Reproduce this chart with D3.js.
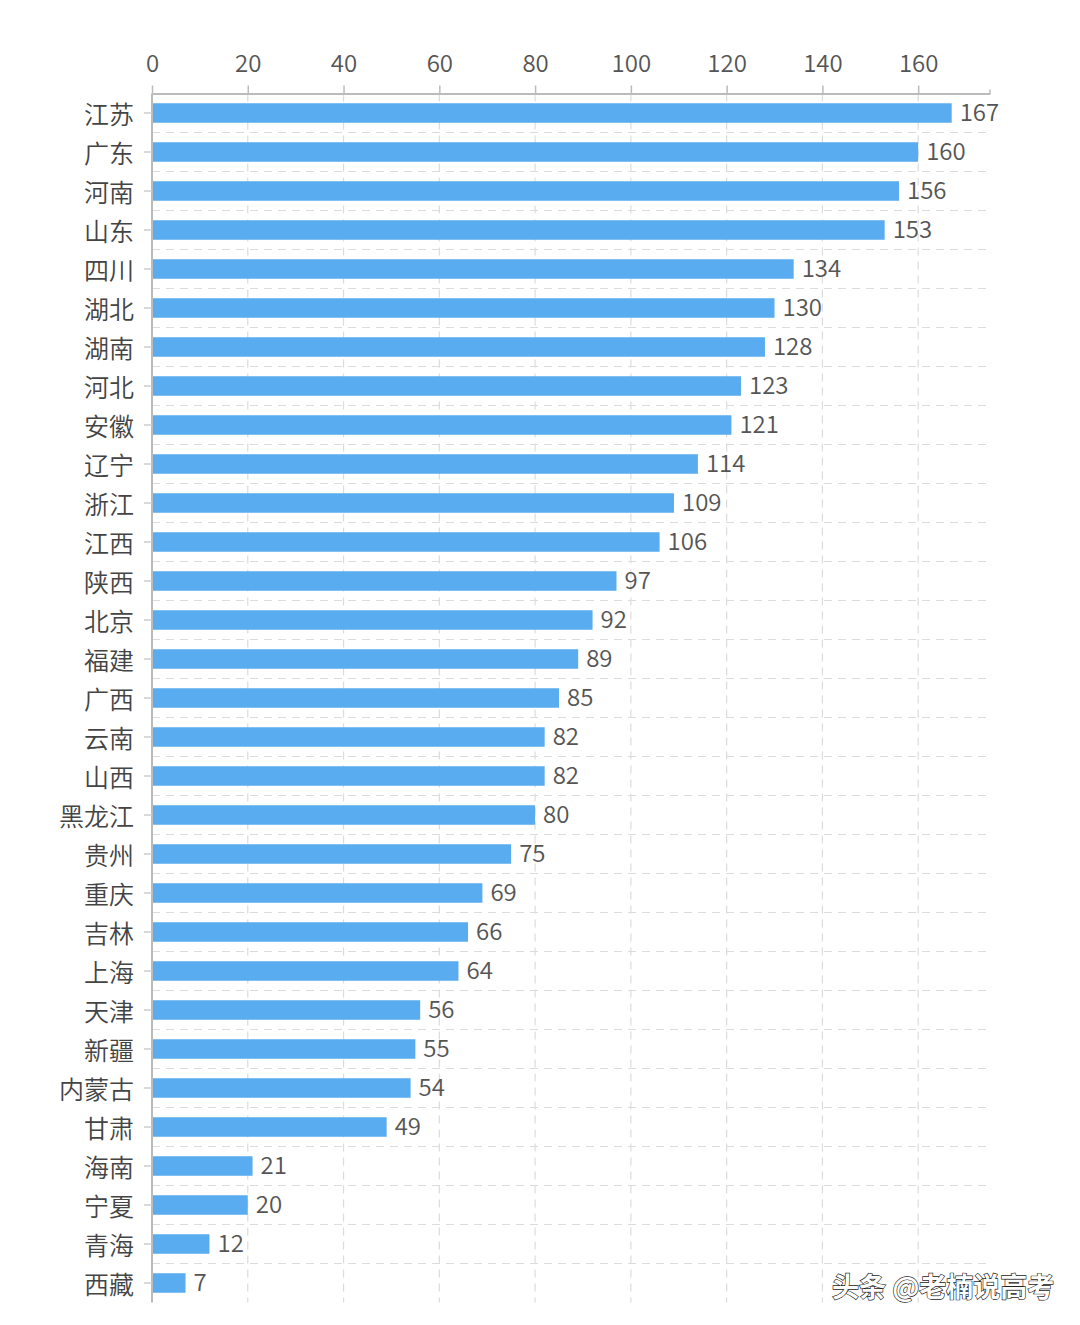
<!DOCTYPE html>
<html><head><meta charset="utf-8">
<script src="https://cdn.jsdelivr.net/npm/d3@7"></script>
<style>html,body{margin:0;padding:0;background:#fff;}svg{display:block;}</style>
</head><body>
<script>
const categories = ["江苏","广东","河南","山东","四川","湖北","湖南","河北","安徽","辽宁","浙江","江西","陕西","北京","福建","广西","云南","山西","黑龙江","贵州","重庆","吉林","上海","天津","新疆","内蒙古","甘肃","海南","宁夏","青海","西藏"];
const values = [167,160,156,153,134,130,128,123,121,114,109,106,97,92,89,85,82,82,80,75,69,66,64,56,55,54,49,21,20,12,7];
const tickValues = [0,20,40,60,80,100,120,140,160];

const W = 1080, H = 1325;
const svg = d3.select("body").append("svg").attr("width", W).attr("height", H);
const font = "'Noto Sans CJK SC','Noto Sans',sans-serif";

const x = d3.scaleLinear().domain([0,175]).range([152, 990]);
const y = d3.scaleBand().domain(categories).range([93.5, 1302.5]).paddingInner(0.5).paddingOuter(0.25);

// vertical dashed grid
svg.append("g").selectAll("line").data(tickValues.filter(d=>d>0)).join("line")
  .attr("x1", d=>x(d)).attr("x2", d=>x(d)).attr("y1", 93.5).attr("y2", 1302.5)
  .attr("stroke", "#dcdcdc").attr("stroke-width", 1.2).attr("stroke-dasharray", "8,6");
// horizontal dashed grid at band boundaries
const step = y.step();
const bounds = categories.slice(1).map((c,i)=> y(c) - y.paddingInner()*step/2);
svg.append("g").selectAll("line").data(bounds).join("line")
  .attr("x1", 152).attr("x2", 990).attr("y1", d=>d).attr("y2", d=>d)
  .attr("stroke", "#dcdcdc").attr("stroke-width", 1.2).attr("stroke-dasharray", "8,6");

// top axis
const xAxis = svg.append("g").attr("transform", "translate(0,93.5)")
  .call(d3.axisTop(x).tickValues(tickValues).tickSize(8).tickPadding(14).tickSizeOuter(0));
xAxis.select(".domain").attr("stroke", "#bbb").attr("stroke-width", 2);
xAxis.selectAll(".tick line").attr("stroke", "#bbb").attr("stroke-width", 1.5);
xAxis.selectAll("text").attr("font-family", font).attr("font-size", 24).attr("font-weight", 350).attr("fill", "#555");
xAxis.append("line").attr("x1", x(175)).attr("x2", x(175)).attr("y1", 0).attr("y2", -4).attr("stroke", "#bbb").attr("stroke-width", 1.5);

// left axis
const yAxis = svg.append("g").attr("transform", "translate(152,0)")
  .call(d3.axisLeft(y).tickSize(8).tickPadding(10).tickSizeOuter(0));
yAxis.select(".domain").attr("stroke", "#bbb").attr("stroke-width", 2).attr("d", "M0,93.5V1302.5");
yAxis.selectAll(".tick line").attr("stroke", "#ccc").attr("stroke-width", 1.5);
yAxis.selectAll("text").attr("font-family", font).attr("font-size", 25).attr("font-weight", 350).attr("fill", "#444").attr("dy", "0.42em");

// bars
svg.append("g").selectAll("rect").data(values).join("rect")
  .attr("x", x(0) + 1).attr("y", (d,i)=>y(categories[i]))
  .attr("width", d=>x(d)-x(0)-1).attr("height", y.bandwidth())
  .attr("fill", "#5aacf0");

// value labels
svg.append("g").selectAll("text").data(values).join("text")
  .attr("x", d=>x(d)+8).attr("y", (d,i)=>y(categories[i]) + y.bandwidth()/2)
  .attr("dy", "0.35em").attr("font-family", font).attr("font-size", 24).attr("font-weight", 350).attr("fill", "#555")
  .text(d=>d);

// watermark
svg.append("text").attr("x", 832).attr("y", 1297).attr("font-family", font).attr("font-size", 27)
  .attr("font-weight", "bold").attr("fill", "#fff").attr("stroke", "#222").attr("stroke-width", 1.3)
  .attr("paint-order", "stroke").text("头条 @老楠说高考");
</script>
</body></html>
